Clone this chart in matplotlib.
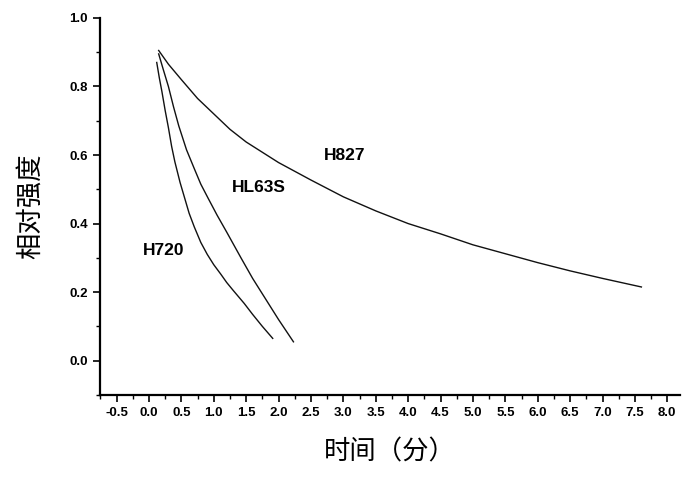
import matplotlib
matplotlib.use('Agg')
import matplotlib.pyplot as plt
from matplotlib.ticker import MultipleLocator

# Curves (time in minutes, relative intensity)
h827_t = [0.15, 0.3, 0.5, 0.75, 1.0, 1.25, 1.5, 2.0, 2.5, 3.0, 3.5, 4.0, 4.5, 5.0, 5.5, 6.0, 6.5, 7.0, 7.6]
h827_i = [0.905, 0.865, 0.82, 0.765, 0.72, 0.675, 0.638, 0.578, 0.527, 0.478, 0.437, 0.40, 0.37, 0.338, 0.312, 0.286, 0.262, 0.24, 0.215]

hl63s_t = [0.15, 0.22, 0.3, 0.38, 0.46, 0.58, 0.7, 0.8, 0.91, 1.05, 1.2, 1.42, 1.6, 1.8, 2.0, 2.23]
hl63s_i = [0.895, 0.85, 0.80, 0.74, 0.685, 0.615, 0.56, 0.515, 0.475, 0.425, 0.375, 0.30, 0.24, 0.18, 0.12, 0.055]

h720_t = [0.12, 0.16, 0.2, 0.25, 0.3, 0.35, 0.4, 0.48, 0.55, 0.62, 0.7, 0.8, 0.9, 1.0, 1.11, 1.2, 1.3, 1.47, 1.6, 1.75, 1.91]
h720_i = [0.87, 0.825, 0.785, 0.73, 0.68, 0.625, 0.58, 0.52, 0.475, 0.43, 0.39, 0.345, 0.31, 0.28, 0.252, 0.228, 0.205, 0.167, 0.135, 0.10, 0.065]

labels = ['H827', 'HL63S', 'H720']
label_pos = [(3.02, 0.60), (1.70, 0.505), (0.23, 0.32)]

cjk = ['Noto Sans CJK SC', 'DejaVu Sans']
tick_font = 'Liberation Sans'

fig = plt.figure(figsize=(6.83, 4.84), dpi=100, facecolor='w')
ax = fig.add_axes([0.146, 0.184, 0.85, 0.779])

for t, i in [(h827_t, h827_i), (hl63s_t, hl63s_i), (h720_t, h720_i)]:
    ax.plot(t, i, color='#111111', lw=1.0)

for lab, (x, y) in zip(labels, label_pos):
    ax.text(x, y, lab, ha='center', va='center', fontsize=12.5,
            fontweight='bold', family=tick_font)

ax.set_xlim(-0.76, 8.2)
ax.set_ylim(-0.1, 1.0)
ax.xaxis.set_minor_locator(MultipleLocator(0.25))
ax.yaxis.set_minor_locator(MultipleLocator(0.1))

ax.spines['right'].set_visible(False)
ax.spines['top'].set_visible(False)
ax.spines['left'].set_linewidth(1.6)
ax.spines['bottom'].set_linewidth(1.6)

ax.tick_params(which='major', direction='out', length=5, width=1.2)
ax.tick_params(which='minor', direction='out', length=3, width=1.0)

ax.set_xticks([x / 2 for x in range(-1, 17)])
ax.set_xticklabels(['%.1f' % (x / 2) for x in range(-1, 17)],
                   family=tick_font, fontweight='bold', fontsize=9.5)
ax.set_yticks([0.0, 0.2, 0.4, 0.6, 0.8, 1.0])
ax.set_yticklabels(['0.0', '0.2', '0.4', '0.6', '0.8', '1.0'],
                   family=tick_font, fontweight='bold', fontsize=9.5)

ax.set_xlabel('时间（分）', family=cjk, fontsize=19, labelpad=14)
ax.set_ylabel('相对强度', family=cjk, fontsize=19, labelpad=18)

fig.savefig('out.png', dpi=100)
plt.close()
